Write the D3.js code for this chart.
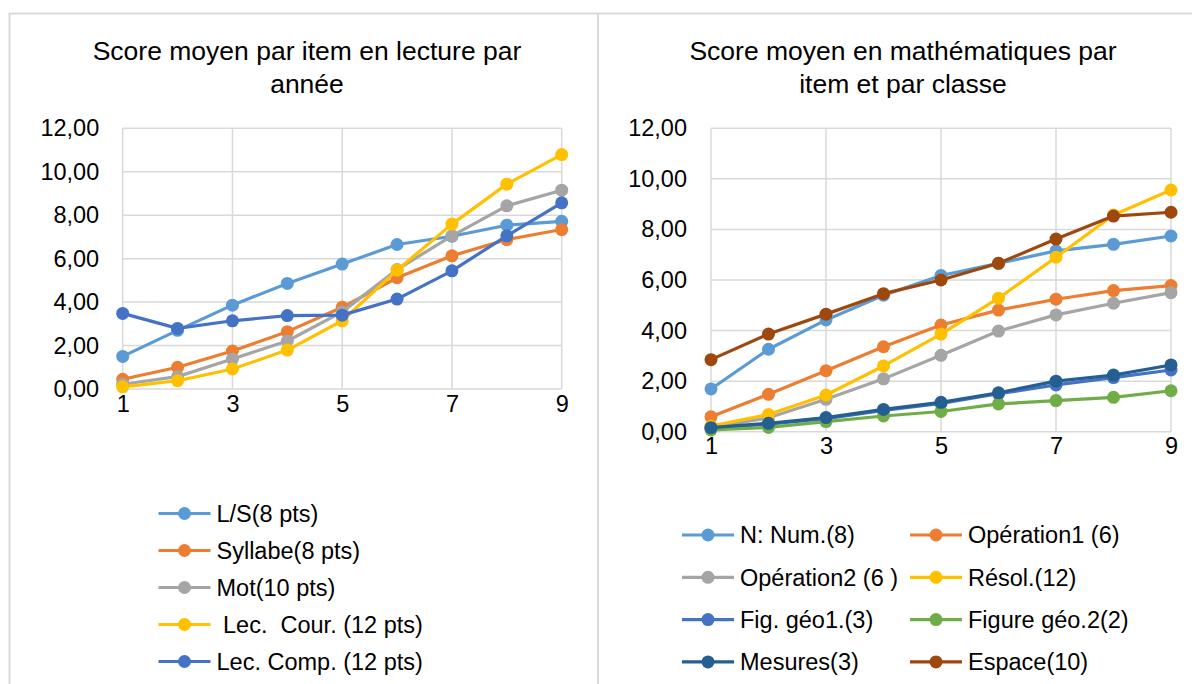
<!DOCTYPE html>
<html>
<head>
<meta charset="utf-8">
<script src="https://cdn.jsdelivr.net/npm/d3@7"></script>
<style>
  html, body { margin: 0; padding: 0; background: #fff; }
  svg { display: block; font-family: "Liberation Sans", Arial, sans-serif; }
  .grid line { stroke: #d9d9d9; }
</style>
</head>
<body>
<svg id="chart" width="1192" height="684"></svg>
<script>
// X values (années / classes)
const years = [1, 2, 3, 4, 5, 6, 7, 8, 9];
const xTickValues = [1, 3, 5, 7, 9];
const yTickValues = [0, 2, 4, 6, 8, 10, 12];

// Lecture
const readingNames = ["L/S(8 pts)", "Syllabe(8 pts)", "Mot(10 pts)", " Lec.  Cour. (12 pts)", "Lec. Comp. (12 pts)"];
const readingColors = ["#5B9BD5", "#ED7D31", "#A5A5A5", "#FFC000", "#4472C4"];
const lettresSons = [1.50, 2.70, 3.86, 4.86, 5.75, 6.65, 7.03, 7.54, 7.72];
const syllabe = [0.45, 1.00, 1.75, 2.64, 3.76, 5.12, 6.13, 6.88, 7.34];
const mot = [0.22, 0.57, 1.38, 2.21, 3.55, 5.50, 7.05, 8.43, 9.15];
const lecCour = [0.10, 0.38, 0.92, 1.79, 3.14, 5.47, 7.59, 9.43, 10.79];
const lecComp = [3.48, 2.79, 3.14, 3.38, 3.40, 4.14, 5.44, 7.05, 8.57];
const readingSeries = [lettresSons, syllabe, mot, lecCour, lecComp];

// Mathématiques
const mathNames = ["N: Num.(8)", "Opération1 (6)", "Opération2 (6 )", "Résol.(12)", "Fig. géo1.(3)", "Figure géo.2(2)", "Mesures(3)", "Espace(10)"];
const mathColors = ["#5B9BD5", "#ED7D31", "#A5A5A5", "#FFC000", "#4472C4", "#70AD47", "#255E91", "#9E480E"];
const numeration = [1.69, 3.26, 4.42, 5.40, 6.18, 6.66, 7.15, 7.41, 7.74];
const operation1 = [0.59, 1.48, 2.41, 3.36, 4.22, 4.81, 5.24, 5.58, 5.78];
const operation2 = [0.17, 0.55, 1.28, 2.09, 3.02, 3.98, 4.62, 5.08, 5.50];
const resolution = [0.22, 0.68, 1.45, 2.60, 3.86, 5.28, 6.90, 8.57, 9.56];
const figGeo1 = [0.14, 0.30, 0.52, 0.84, 1.12, 1.50, 1.85, 2.14, 2.44];
const figGeo2 = [0.07, 0.17, 0.40, 0.62, 0.80, 1.10, 1.23, 1.36, 1.62];
const mesures = [0.16, 0.33, 0.56, 0.88, 1.16, 1.54, 2.00, 2.24, 2.64];
const espace = [2.85, 3.86, 4.65, 5.46, 6.00, 6.66, 7.62, 8.53, 8.68];
const mathSeries = [numeration, operation1, operation2, resolution, figGeo1, figGeo2, mesures, espace];

const fr = d3.formatLocale({ decimal: ",", thousands: " ", grouping: [3], currency: ["", " €"] });
const fmt = fr.format(".2f");

const svg = d3.select("#chart");

// Panel frames
const frame = svg.append("g").attr("stroke", "#d9d9d9").attr("stroke-width", 2).attr("fill", "none");
frame.append("line").attr("x1", 9).attr("x2", 1192).attr("y1", 13.5).attr("y2", 13.5);
frame.append("line").attr("x1", 9.5).attr("x2", 9.5).attr("y1", 13).attr("y2", 684);
frame.append("line").attr("x1", 598).attr("x2", 598).attr("y1", 13).attr("y2", 684);

function drawPanel(cfg) {
  const g = svg.append("g");
  const x = d3.scaleLinear().domain([1, 9]).range([cfg.left, cfg.right]);
  const y = d3.scaleLinear().domain([0, 12]).range([cfg.bottom, cfg.top]);

  // Title
  const title = g.append("text")
    .attr("text-anchor", "middle")
    .attr("font-size", 26.5)
    .attr("fill", "#000");
  cfg.title.forEach((t, i) => {
    title.append("tspan").attr("x", cfg.titleX).attr("y", cfg.titleY + i * 33).text(t);
  });

  // Gridlines
  const grid = g.append("g").attr("class", "grid");
  grid.selectAll("line.h").data(yTickValues).join("line")
    .attr("class", "h")
    .attr("x1", cfg.left).attr("x2", cfg.right)
    .attr("y1", d => y(d)).attr("y2", d => y(d))
    .attr("stroke-width", 1.5);
  grid.selectAll("line.v").data(xTickValues).join("line")
    .attr("class", "v")
    .attr("x1", d => x(d)).attr("x2", d => x(d))
    .attr("y1", cfg.top).attr("y2", cfg.bottom)
    .attr("stroke-width", 1.5);

  // Axes (labels only)
  const yAxis = g.append("g")
    .attr("transform", `translate(${cfg.left},0)`)
    .call(d3.axisLeft(y).tickValues(yTickValues).tickFormat(fmt).tickSize(0).tickPadding(cfg.yPad));
  const xAxis = g.append("g")
    .attr("transform", `translate(0,${cfg.bottom})`)
    .call(d3.axisBottom(x).tickValues(xTickValues).tickFormat(d3.format("d")).tickSize(0).tickPadding(cfg.xPad));
  [yAxis, xAxis].forEach(a => {
    a.select(".domain").remove();
    a.selectAll("text").attr("font-size", 23.5).attr("fill", "#000")
      .attr("font-family", "Liberation Sans, Arial, sans-serif");
  });

  // Series
  const line = d3.line().x((d, i) => x(years[i])).y(d => y(d));
  cfg.series.forEach((vals, si) => {
    const s = g.append("g");
    s.append("path").datum(vals)
      .attr("d", line)
      .attr("fill", "none")
      .attr("stroke", cfg.colors[si])
      .attr("stroke-width", 3.2)
      .attr("stroke-linejoin", "round");
    s.selectAll("circle").data(vals).join("circle")
      .attr("cx", (d, i) => x(years[i]))
      .attr("cy", d => y(d))
      .attr("r", 6.5)
      .attr("fill", cfg.colors[si]);
  });

  // Legend
  const leg = g.append("g");
  cfg.names.forEach((name, i) => {
    const col = i % cfg.legCols;
    const row = Math.floor(i / cfg.legCols);
    const lx = cfg.legX + col * cfg.legColW;
    const ly = cfg.legY + row * cfg.legRowH;
    leg.append("line")
      .attr("x1", lx).attr("x2", lx + 52)
      .attr("y1", ly).attr("y2", ly)
      .attr("stroke", cfg.colors[i]).attr("stroke-width", 3.2);
    leg.append("circle")
      .attr("cx", lx + 26).attr("cy", ly).attr("r", 6.5)
      .attr("fill", cfg.colors[i]);
    leg.append("text")
      .attr("x", lx + 58).attr("y", ly + 8.2)
      .attr("font-size", 23.5)
      .attr("fill", "#000")
      .style("white-space", "pre")
      .attr("xml:space", "preserve")
      .text(name);
  });
}

drawPanel({
  title: ["Score moyen par item en lecture par", "année"],
  titleX: 307, titleY: 59.5,
  left: 122.7, right: 561.7, top: 128.3, bottom: 389,
  yPad: 23.5, xPad: 6,
  series: readingSeries, colors: readingColors, names: readingNames,
  legX: 158.5, legY: 513.5, legCols: 1, legColW: 0, legRowH: 37
});

drawPanel({
  title: ["Score moyen en mathématiques par", "item et par classe"],
  titleX: 903, titleY: 59.5,
  left: 711, right: 1171, top: 128.3, bottom: 431.7,
  yPad: 24, xPad: 6,
  series: mathSeries, colors: mathColors, names: mathNames,
  legX: 682, legY: 535, legCols: 2, legColW: 228, legRowH: 42.3
});
</script>
</body>
</html>
